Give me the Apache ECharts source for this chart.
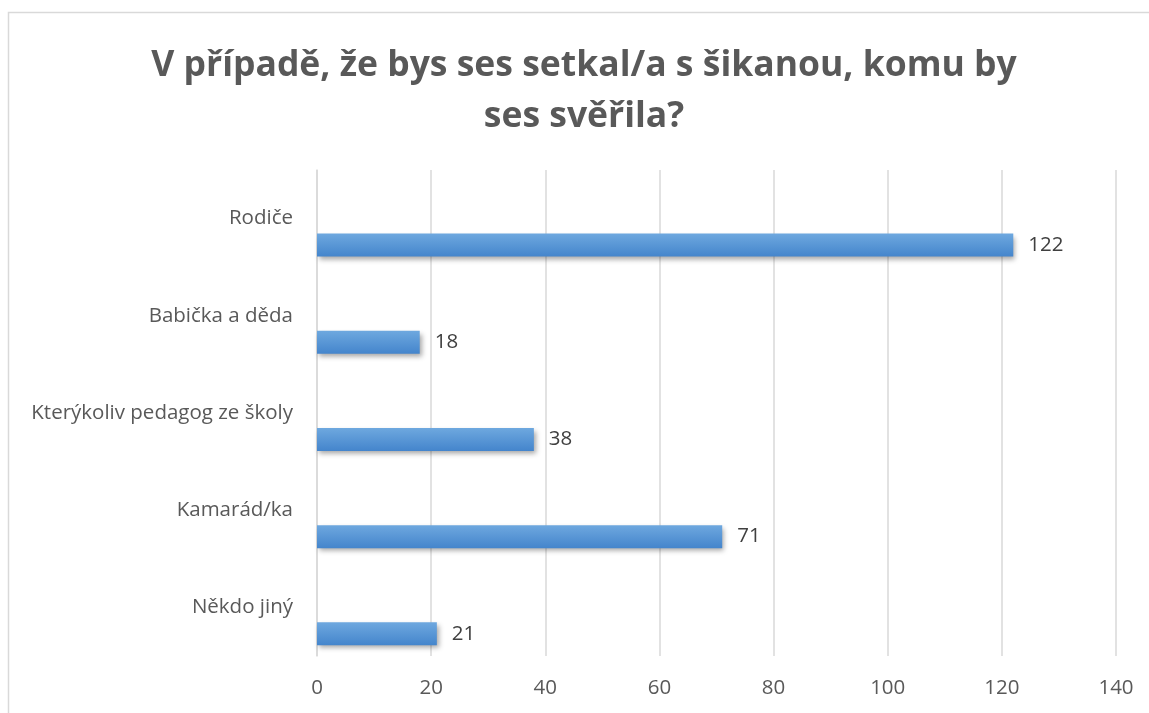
<!DOCTYPE html>
<html>
<head>
<meta charset="utf-8">
<script src="https://cdn.jsdelivr.net/npm/echarts@6/dist/echarts.min.js"></script>
<style>
html,body{margin:0;padding:0;background:#fff;}
#chart{width:1149px;height:713px;}
</style>
</head>
<body>
<div id="chart"></div>
<script>
const titleText = 'V případě, že bys ses setkal/a s šikanou, komu by\nses svěřila?';
const categories = ['Rodiče', 'Babička a děda', 'Kterýkoliv pedagog ze školy', 'Kamarád/ka', 'Někdo jiný'];
const values = [122, 18, 38, 71, 21];
const emptyValues = [null, null, null, null, null];
const xTicks = { min: 0, max: 140, interval: 20 };

const chart = echarts.init(document.getElementById('chart'), null, { renderer: 'canvas' });
chart.setOption({
  backgroundColor: '#ffffff',
  animation: false,
  graphic: [{
    type: 'rect',
    shape: { x: 8.5, y: 12.5, width: 1160, height: 720 },
    style: { fill: 'none', stroke: '#d9d9d9', lineWidth: 1.5 },
    silent: true
  }],
  title: {
    text: titleText,
    left: 579,
    textAlign: 'center',
    top: 35,
    textStyle: {
      fontFamily: 'Open Sans',
      fontWeight: 'bold',
      fontSize: 35.5,
      lineHeight: 51,
      color: '#595959'
    }
  },
  grid: { left: 317, right: 33, top: 170, bottom: 57, containLabel: false },
  xAxis: {
    type: 'value',
    min: xTicks.min, max: xTicks.max, interval: xTicks.interval,
    axisLine: { show: false },
    axisTick: { show: false },
    splitLine: { show: true, lineStyle: { color: '#d9d9d9', width: 1.5 } },
    axisLabel: { margin: 22, fontFamily: 'Open Sans', fontSize: 20.5, color: '#595959' }
  },
  yAxis: {
    type: 'category',
    data: categories,
    inverse: true,
    axisLine: { show: true, lineStyle: { color: '#d9d9d9', width: 1.5 } },
    axisTick: { show: false },
    axisLabel: { margin: 24, fontFamily: 'Open Sans', fontSize: 20.5, color: '#595959' }
  },
  series: [
    {
      type: 'bar',
      data: emptyValues,
      barWidth: 23,
      barGap: '130%'
    },
    {
      type: 'bar',
      data: values,
      barWidth: 23,
      barGap: '130%',
      itemStyle: {
        color: new echarts.graphic.LinearGradient(0, 0, 0, 1, [
          { offset: 0, color: '#6ea8df' },
          { offset: 1, color: '#4485cc' }
        ]),
        shadowColor: 'rgba(0,0,0,0.35)',
        shadowBlur: 5,
        shadowOffsetX: 2,
        shadowOffsetY: 3
      },
      label: {
        show: true,
        position: 'right',
        distance: 15,
        fontFamily: 'Open Sans',
        fontSize: 20.5,
        color: '#404040'
      }
    }
  ]
});
</script>
</body>
</html>
